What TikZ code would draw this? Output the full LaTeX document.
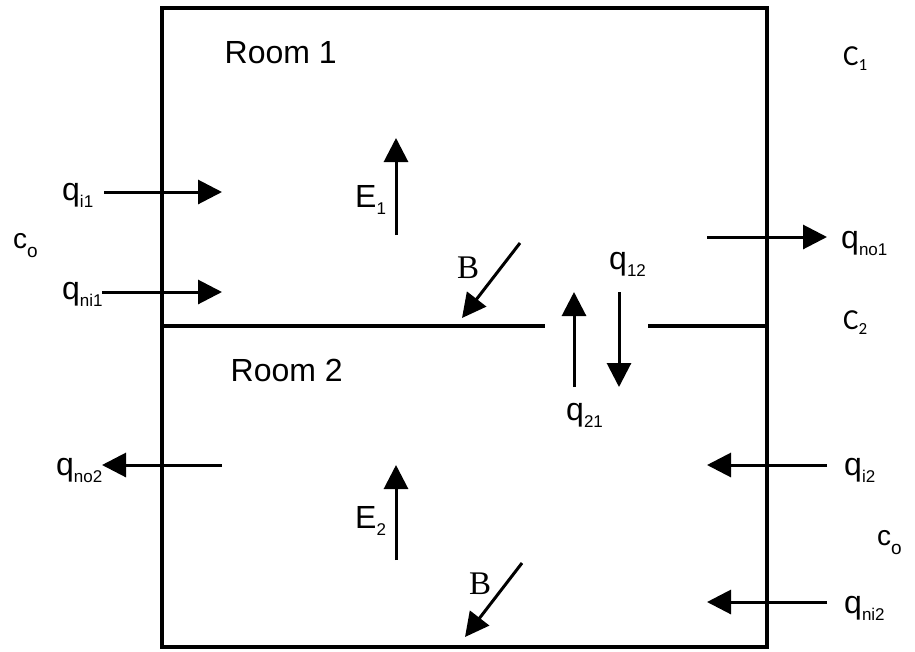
\documentclass[tikz,border=0pt]{standalone}
\usepackage{fontspec}
\setmainfont{Liberation Sans}
\newfontfamily\calfont{Carlito}
\newfontfamily\serfont{Liberation Serif}
\usetikzlibrary{arrows.meta}
\newcommand\lsub[1]{\raisebox{-7pt}{\fontsize{17}{17}\selectfont #1}}
\newcommand\osub[1]{\raisebox{-9pt}{\fontsize{19}{19}\selectfont #1}}
\newcommand\csub[1]{\raisebox{-5pt}{\fontsize{17}{17}\selectfont #1}}
\begin{document}
\begin{tikzpicture}[x=1pt,y=-1pt,
  wall/.style={line width=3.2pt},
  flow/.style={line width=3pt,-{Triangle[length=24pt,width=24pt]}},
  lab/.style={inner sep=0pt,anchor=base west,font=\fontsize{32}{32}\selectfont},
  roomlab/.style={inner sep=0pt,anchor=base west,font=\fontsize{32}{32}\selectfont},
  clab/.style={inner sep=0pt,anchor=base west,font=\calfont\fontsize{29}{29}\selectfont},
  olab/.style={inner sep=0pt,anchor=base west,font=\fontsize{28}{28}\selectfont},
  blab/.style={inner sep=0pt,anchor=base west,font=\serfont\fontsize{33}{33}\selectfont}]
\useasboundingbox (0,0) rectangle (915,651);
\fill[white] (0,0) rectangle (915,651);
% walls
\coordinate (tl) at (162,8);
\coordinate (br) at (767,647);
\draw[wall] (tl) rectangle (br);
\coordinate (pl1) at (162,326);
\coordinate (pl2) at (545,326);
\coordinate (pr1) at (648,326);
\coordinate (pr2) at (767,326);
\draw[wall] (pl1) -- (pl2);
\draw[wall] (pr1) -- (pr2);
% texts
\node[roomlab] (room1) at (224.5,63) {Room 1};
\node[roomlab] (room2) at (230.5,381) {Room 2};
\node[clab] (c1) at (843,65) {C\csub{1}};
\node[clab] (c2) at (843,329) {C\csub{2}};
\node[olab] (col) at (13,248) {c\osub{o}};
\node[olab] (cor) at (877,545) {c\osub{o}};
\node[lab] (qi1) at (62,200) {q\lsub{i1}};
\node[lab] (qni1) at (62,299) {q\lsub{ni1}};
\node[lab] (qno1) at (841,248) {q\lsub{no1}};
\node[lab] (qno2) at (56,475) {q\lsub{no2}};
\node[lab] (qi2) at (844,475) {q\lsub{i2}};
\node[lab] (qni2) at (844,613) {q\lsub{ni2}};
\node[lab] (q12) at (609,269) {q\lsub{12}};
\node[lab] (q21) at (566,420) {q\lsub{21}};
\node[lab] (e1) at (355,207) {E\lsub{1}};
\node[lab] (e2) at (355,528) {E\lsub{2}};
\node[blab] (b1) at (457,278) {B};
\node[blab] (b2) at (469,594) {B};
% arrow end points
\coordinate (qi1s) at (104,192);  \coordinate (qi1e) at (222,192);
\coordinate (qni1s) at (102,292); \coordinate (qni1e) at (222,292);
\coordinate (qno1s) at (707,237); \coordinate (qno1e) at (827,237);
\coordinate (qno2s) at (222,465); \coordinate (qno2e) at (102,465);
\coordinate (qi2s) at (827,465);  \coordinate (qi2e) at (707,465);
\coordinate (qni2s) at (827,602); \coordinate (qni2e) at (707,602);
\coordinate (e1s) at (396,235);   \coordinate (e1e) at (396,138);
\coordinate (e2s) at (396,560);   \coordinate (e2e) at (396,465);
\coordinate (b1s) at (520,243);   \coordinate (b1e) at (462,318);
\coordinate (b2s) at (522,563);   \coordinate (b2e) at (465,637);
\coordinate (q21s) at (574,387);  \coordinate (q21e) at (574,292);
\coordinate (q12s) at (619,292);  \coordinate (q12e) at (619,387);
\draw[flow] (qi1s) -- (qi1e);
\draw[flow] (qni1s) -- (qni1e);
\draw[flow] (qno1s) -- (qno1e);
\draw[flow] (qno2s) -- (qno2e);
\draw[flow] (qi2s) -- (qi2e);
\draw[flow] (qni2s) -- (qni2e);
\draw[flow] (e1s) -- (e1e);
\draw[flow] (e2s) -- (e2e);
\draw[flow] (b1s) -- (b1e);
\draw[flow] (b2s) -- (b2e);
\draw[flow] (q21s) -- (q21e);
\draw[flow] (q12s) -- (q12e);
\end{tikzpicture}
\end{document}
